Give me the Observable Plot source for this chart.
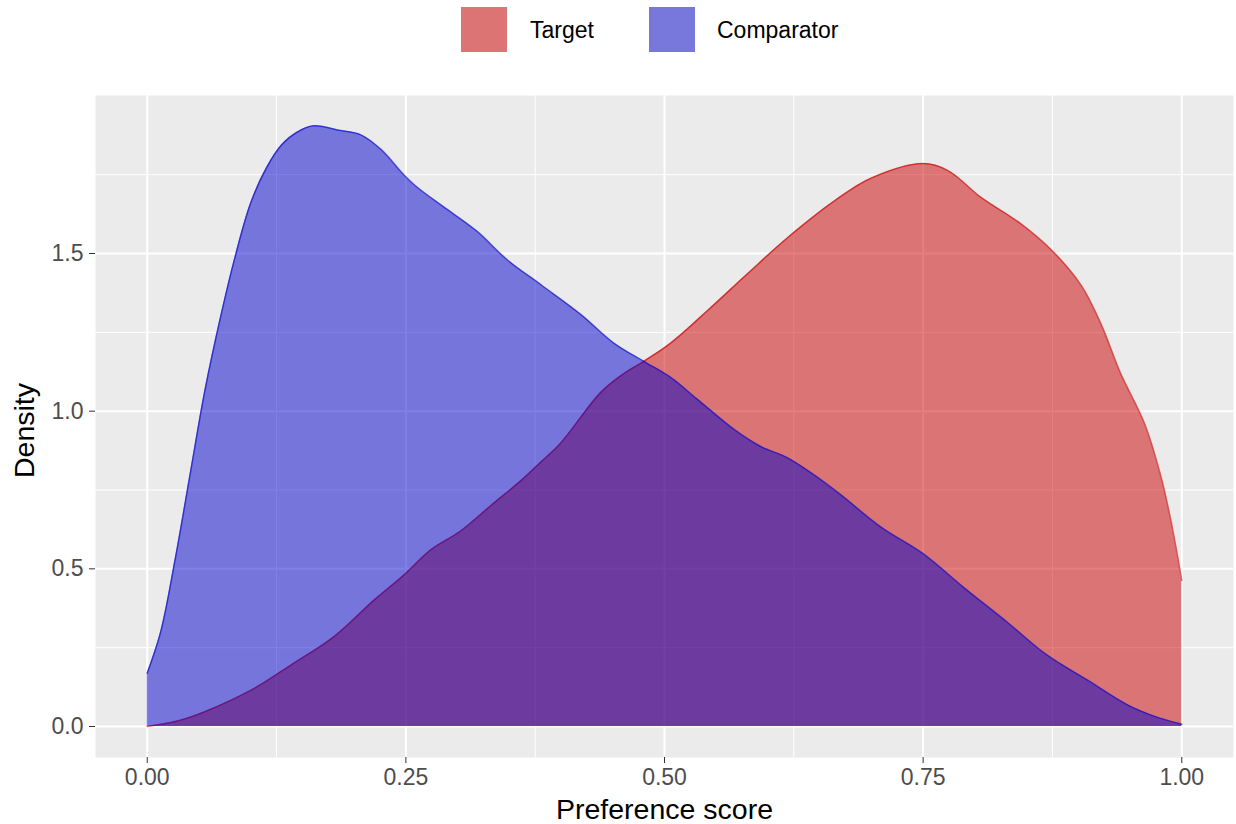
<!DOCTYPE html>
<html>
<head>
<meta charset="utf-8">
<script src="https://cdn.jsdelivr.net/npm/d3@7"></script>
<script src="https://cdn.jsdelivr.net/npm/@observablehq/plot@0.6"></script>
<style>
  body { margin: 0; background: #ffffff; font-family: "Liberation Sans", Arial, sans-serif; }
  #legend { position: relative; height: 60px; width: 1236px; }
  .key { position: absolute; top: 7px; width: 46px; height: 45px; }
  .lab { position: absolute; top: 19px; font-size: 23px; line-height: 23px; color: #000; white-space: nowrap; }
</style>
</head>
<body>
<div id="legend"></div>
<div id="chart"></div>
<script>
// ---- data ----
const seriesNames = ["Target", "Comparator"];
const legendKeyColors = ["#DC7474", "#7878DC"];

const targetX = [0, 0.032, 0.058, 0.103, 0.139, 0.181, 0.219, 0.248, 0.274, 0.303, 0.332, 0.361, 0.381, 0.400, 0.438, 0.458, 0.480, 0.506, 0.542, 0.580, 0.619, 0.664, 0.700, 0.75, 0.774, 0.806, 0.845, 0.875, 0.903, 0.922, 0.941, 0.964, 0.980, 0.990, 1.0];
const targetY = [0.0, 0.02, 0.05, 0.12, 0.195, 0.286, 0.40, 0.48, 0.56, 0.62, 0.70, 0.779, 0.84, 0.90, 1.058, 1.113, 1.158, 1.216, 1.32, 1.435, 1.55, 1.666, 1.739, 1.785, 1.763, 1.678, 1.593, 1.508, 1.398, 1.276, 1.119, 0.961, 0.791, 0.645, 0.463];

const comparatorX = [0, 0.013, 0.027, 0.042, 0.056, 0.071, 0.085, 0.100, 0.115, 0.130, 0.145, 0.161, 0.187, 0.206, 0.226, 0.248, 0.261, 0.290, 0.319, 0.348, 0.381, 0.419, 0.451, 0.480, 0.506, 0.531, 0.567, 0.593, 0.619, 0.645, 0.670, 0.709, 0.75, 0.790, 0.832, 0.870, 0.909, 0.948, 0.974, 1.0];
const comparatorY = [0.169, 0.30, 0.53, 0.81, 1.07, 1.30, 1.49, 1.66, 1.77, 1.845, 1.885, 1.905, 1.89, 1.877, 1.83, 1.75, 1.71, 1.64, 1.57, 1.48, 1.40, 1.307, 1.216, 1.158, 1.107, 1.04, 0.943, 0.888, 0.852, 0.797, 0.736, 0.633, 0.548, 0.439, 0.329, 0.226, 0.147, 0.068, 0.032, 0.007];

const xMajor = [0, 0.25, 0.5, 0.75, 1.0];
const xMinor = [0.125, 0.375, 0.625, 0.875];
const yMajor = [0, 0.5, 1.0, 1.5];
const yMinor = [0.25, 0.75, 1.25, 1.75];
const xTitle = "Preference score";
const yTitle = "Density";

// ---- build tables ----
const target = targetX.map((x, i) => ({x, y: targetY[i]}));
const comparator = comparatorX.map((x, i) => ({x, y: comparatorY[i]}));

// ---- legend ----
const legend = document.getElementById("legend");
const keyLeft = [461, 649];
const labLeft = [530, 717];
seriesNames.forEach((name, i) => {
  const k = document.createElement("div");
  k.className = "key";
  k.style.left = keyLeft[i] + "px";
  k.style.background = legendKeyColors[i];
  legend.appendChild(k);
  const t = document.createElement("div");
  t.className = "lab";
  t.style.left = labLeft[i] + "px";
  t.textContent = name;
  legend.appendChild(t);
});

// ---- chart ----
const chart = Plot.plot({
  width: 1236,
  height: 764,
  marginTop: 35,
  marginBottom: 67,
  marginLeft: 95,
  marginRight: 3,
  style: {fontFamily: "'Liberation Sans', Arial, sans-serif", background: "transparent", overflow: "visible"},
  x: {domain: [-0.05, 1.05]},
  y: {domain: [-0.0983, 2.001]},
  marks: [
    Plot.frame({fill: "#EBEBEB", stroke: null}),
    Plot.ruleY(yMinor, {stroke: "#ffffff", strokeWidth: 1}),
    Plot.ruleX(xMinor, {stroke: "#ffffff", strokeWidth: 1}),
    Plot.ruleY(yMajor, {stroke: "#ffffff", strokeWidth: 2}),
    Plot.ruleX(xMajor, {stroke: "#ffffff", strokeWidth: 2}),
    Plot.areaY(target, {x: "x", y: "y", fill: "#CC0000", fillOpacity: 0.5, curve: "catmull-rom"}),
    Plot.lineY(target, {x: "x", y: "y", stroke: "#CC0000", strokeOpacity: 0.6, strokeWidth: 1.5, curve: "catmull-rom"}),
    Plot.areaY(comparator, {x: "x", y: "y", fill: "#0000CC", fillOpacity: 0.5, curve: "catmull-rom"}),
    Plot.lineY(comparator, {x: "x", y: "y", stroke: "#0000CC", strokeOpacity: 0.6, strokeWidth: 1.5, curve: "catmull-rom"}),
    Plot.axisX({ticks: xMajor, tickFormat: d3.format(".2f"), tickSize: 6, tickPadding: 5, fontSize: 23, stroke: "#333333", fill: "#4D4D4D", label: null}),
    Plot.axisY({ticks: yMajor, tickFormat: d3.format(".1f"), tickSize: 6, tickPadding: 6, fontSize: 23, stroke: "#333333", fill: "#4D4D4D", label: null}),
    Plot.text([xTitle], {frameAnchor: "bottom", lineAnchor: "middle", textAnchor: "middle", dy: 52, fontSize: 28.5, fill: "#000000", text: d => d}),
    Plot.text([yTitle], {frameAnchor: "left", lineAnchor: "middle", textAnchor: "middle", dx: -71, dy: 4, rotate: -90, fontSize: 28.5, fill: "#000000", text: d => d})
  ]
});
document.getElementById("chart").appendChild(chart);
</script>
</body>
</html>
